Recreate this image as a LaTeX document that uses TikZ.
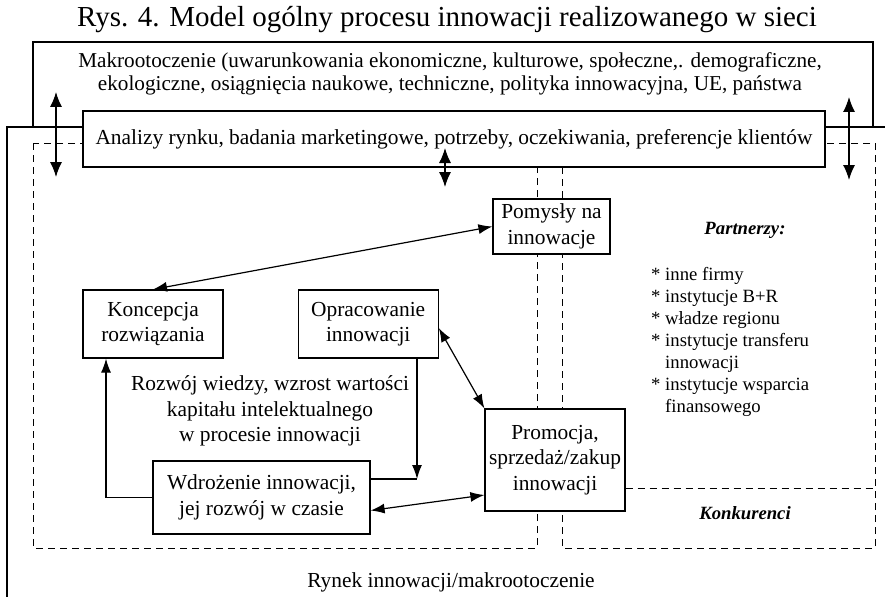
\documentclass[tikz,border=0pt]{standalone}
\usepackage{fontspec}
\setmainfont{Liberation Serif}
\usetikzlibrary{arrows.meta,positioning}

\newcommand{\titlefont}{\fontsize{29}{34}\selectfont}
\newcommand{\makrofont}{\fontsize{21.2}{23}\selectfont}
\newcommand{\bodyfont}{\fontsize{21.4}{25.5}\selectfont}
\newcommand{\listfont}{\fontsize{18.7}{22}\selectfont}

\tikzset{
  box/.style={draw, fill=white, line width=1.2pt, align=center, inner sep=0pt, font=\bodyfont},
  zone/.style={draw, line width=0.9pt, dash pattern=on 7pt off 5pt},
  flow/.style={line width=1.2pt},
  bigflow/.style={line width=1.2pt, {Latex[length=15pt,width=12pt]}-{Latex[length=15pt,width=12pt]}}
}

\begin{document}
\begin{tikzpicture}[x=1pt, y=-1pt, >={Latex[length=14pt,width=10pt]}]
    \useasboundingbox (0,0) rectangle (885,607);

    \node[font=\titlefont] (title) at (447,20) {Rys. 4. Model ogólny procesu innowacji realizowanego w sieci};

    % makrootoczenie
    \draw[flow] (33,127) rectangle (873,42);
    \node[align=center, font=\makrofont] (makro) at (450,73.5) {Makrootoczenie (uwarunkowania ekonomiczne, kulturowe, społeczne,. demograficzne,\\ekologiczne, osiągnięcia naukowe, techniczne, polityka innowacyjna, UE, państwa};

    % rynek innowacji
    \draw[flow] (885,127) -- (7,127) -- (7,597);
    \node[font=\bodyfont] (rynek) at (451,582) {Rynek innowacji/makrootoczenie};

    % strefy
    \draw[zone] (33,143) rectangle (537,548);
    \draw[zone] (562,143) rectangle (875,548);

    \node[box, minimum width=742pt, minimum height=56pt] (analizy) at (454,139) {Analizy rynku, badania marketingowe, potrzeby, oczekiwania, preferencje klientów};

    \coordinate (lewyG) at (56,92);
    \coordinate (lewyD) at (56,177);
    \coordinate (prawyG) at (849,97);
    \coordinate (prawyD) at (849,180);
    \coordinate (srodekG) at (445,148);
    \coordinate (srodekD) at (445,187);
    \draw[bigflow] (lewyG) -- (lewyD);
    \draw[bigflow] (prawyG) -- (prawyD);
    \draw[bigflow] (srodekG) -- (srodekD);

    \node[box, minimum width=117pt, minimum height=55pt] (pomysly) at (551.5,226.5) {Pomysły na\\innowacje};
    \node[box, minimum width=140pt, minimum height=68pt] (koncepcja) at (153,324) {Koncepcja\\rozwiązania};
    \node[box, minimum width=140pt, minimum height=68pt, right=74pt of koncepcja] (opracowanie) {Opracowanie\\innowacji};
    \node[align=center, font=\bodyfont] (wiedza) at (270,411) {Rozwój wiedzy, wzrost wartości\\kapitału intelektualnego\\w procesie innowacji};
    \node[box, minimum width=217pt, minimum height=73pt] (wdrozenie) at (261.5,497.5) {Wdrożenie innowacji,\\jej rozwój w czasie};
    \node[box, minimum width=140pt, minimum height=102pt] (promocja) at (555,460) {Promocja,\\sprzedaż/zakup\\innowacji};

    % partnerzy i konkurenci
    \node[font=\listfont\bfseries\itshape] (partnerzy) at (745,230) {Partnerzy:};
    \node[font=\listfont, align=left, anchor=west, inner sep=0pt] (lista) at (651,341.5) {* inne firmy\\* instytucje B+R\\* władze regionu\\* instytucje transferu\\\hphantom{*} innowacji\\* instytucje wsparcia\\\hphantom{*} finansowego};
    \coordinate (granica) at (875,488);
    \draw[zone] (promocja.east |- granica) -- (granica);
    \node[font=\listfont\bfseries\itshape] (konkurenci) at (745,513) {Konkurenci};

    % przeplywy
    \draw[flow, <->] (pomysly.west) -- (koncepcja.north);
    \draw[flow, <->] ([yshift=-4pt]opracowanie.east) -- (promocja.north west);
    \draw[flow, <->] ([yshift=-13pt]wdrozenie.east) -- ([yshift=-35pt]promocja.west);
    \draw[flow, ->] (wdrozenie.west) -| ([xshift=-47pt]koncepcja.south);
    \coordinate (zakret) at (417,479);
    \draw[flow, ->] (opracowanie.south -| zakret) -- (zakret);
    \draw[flow] (wdrozenie.east |- zakret) -- (zakret);
\end{tikzpicture}
\end{document}
